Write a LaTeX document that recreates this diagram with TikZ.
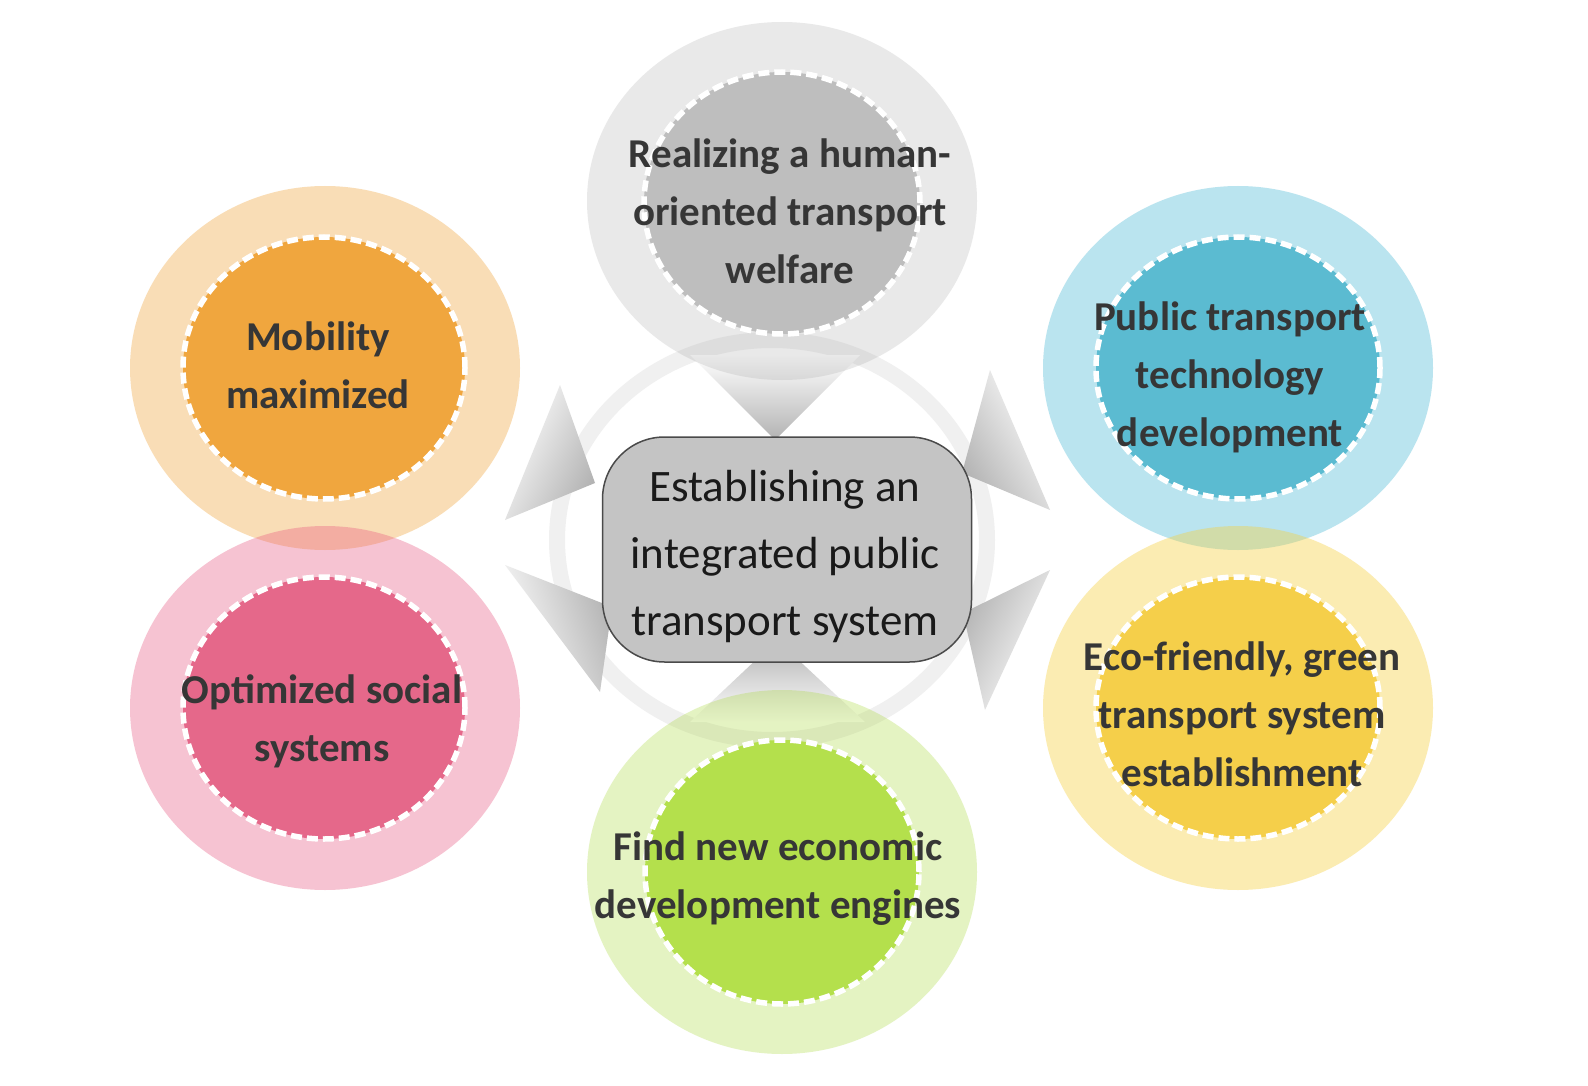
\documentclass[tikz,border=0pt]{standalone}
\usepackage{fontspec}
\setmainfont{Carlito}
\usetikzlibrary{shapes.geometric}
\definecolor{txt}{HTML}{363636}
\definecolor{ctxt}{HTML}{1A1A1A}
\definecolor{oOr}{HTML}{F0A030}
\definecolor{oPk}{HTML}{E8557F}
\definecolor{oBl}{HTML}{3CB4D2}
\definecolor{oYe}{HTML}{F5D040}
\definecolor{oGy}{HTML}{A8A8A8}
\definecolor{oGn}{HTML}{A8D838}
\definecolor{iOr}{HTML}{F0A63E}
\definecolor{iPk}{HTML}{E5688A}
\definecolor{iBl}{HTML}{5BBBD1}
\definecolor{iYe}{HTML}{F5CF4A}
\definecolor{iGy}{HTML}{BEBEBE}
\definecolor{iGn}{HTML}{B4E04C}
\definecolor{boxfill}{HTML}{C4C4C4}
\definecolor{boxline}{HTML}{4A4A4A}
\begin{document}
\begin{tikzpicture}[x=1pt,y=-1pt,
  outerc/.style={ellipse, inner sep=0pt, minimum width=390pt, minimum height=364pt},
  innerc/.style={ellipse, inner sep=0pt, minimum width=280pt, minimum height=262pt,
     draw=white, line width=5.5pt, dash pattern=on 11pt off 5pt},
  lbl/.style={font=\bfseries\fontsize{41}{58}\selectfont, text=txt, align=center, inner sep=0pt},
  spoke/.style={top color=black!30, bottom color=white},
]
\useasboundingbox (0,0) rectangle (1588,1086);
\fill[white] (0,0) rectangle (1588,1086);

% faint ring
\draw[line width=16pt, black!6] (772,540) ellipse [x radius=215, y radius=200];

% shadow spokes
\shade[spoke, shading angle=180] (775,440) -- (690,355) -- (860,355) -- cycle;
\shade[spoke, shading angle=0] (777,640) -- (690,722) -- (865,722) -- cycle;
\shade[spoke, shading angle=-116] (595,483) -- (560,385) -- (505,520) -- cycle;
\shade[spoke, shading angle=-72] (612,607) -- (505,565) -- (600,692) -- cycle;
\shade[spoke, shading angle=120] (962,473) -- (990,370) -- (1050,510) -- cycle;
\shade[spoke, shading angle=63] (963,613) -- (1050,570) -- (985,710) -- cycle;

% central box
\node[draw=boxline, line width=1.5pt, fill=boxfill, rounded corners=62pt,
      minimum width=369pt, minimum height=225pt] (hub) at (787,549.5) {};

% outer halos
\node[outerc, fill=oGy, fill opacity=0.25, minimum height=358pt] (oTop) at (782,201) {};
\node[outerc, fill=oOr, fill opacity=0.35] (oOrange) at (325,368) {};
\node[outerc, fill=oPk, fill opacity=0.35] (oPink) at (325,708) {};
\node[outerc, fill=oBl, fill opacity=0.35] (oBlue) at (1238,368) {};
\node[outerc, fill=oYe, fill opacity=0.40] (oYellow) at (1238,708) {};
\node[outerc, fill=oGn, fill opacity=0.30] (oGreen) at (782,872) {};

% inner discs
\node[innerc, fill=iGy, minimum width=276pt] (iTop) at (782,203) {};
\node[innerc, fill=iOr, minimum width=282pt] (iOrange) at (324,368) {};
\node[innerc, fill=iPk, minimum width=282pt] (iPink) at (324,708) {};
\node[innerc, fill=iBl, minimum width=284pt] (iBlue) at (1238,368) {};
\node[innerc, fill=iYe, minimum width=284pt] (iYellow) at (1238,708) {};
\node[innerc, fill=iGn, minimum width=274pt, minimum height=264pt] (iGreen) at (782,872) {};

% labels
\node[lbl] (tTop) at (790,211) {Realizing a human-\\oriented transport\\welfare};
\node[lbl] (tOrange) at (318,365) {Mobility\\maximized};
\node[lbl] (tPink) at (322,721) {Optimized social\\systems};
\node[lbl] (tBlue) at (1230,377) {Public transport\\technology\\development};
\node[lbl] (tYellow) at (1242,714) {Eco-friendly, green\\transport system\\establishment};
\node[lbl] (tGreen) at (778,879) {Find new economic\\development engines};
\node[font=\fontsize{45}{67}\selectfont, text=ctxt, align=center, inner sep=0pt] (tHub) at (785,556)
  {Establishing an\\integrated public\\transport system};
\end{tikzpicture}
\end{document}
